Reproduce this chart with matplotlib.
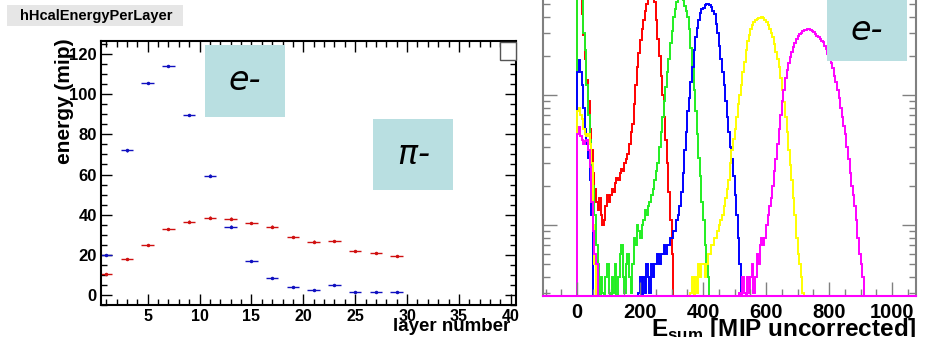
import numpy as np
import matplotlib
matplotlib.use("Agg")
import matplotlib.pyplot as plt
from matplotlib.patches import Rectangle
from matplotlib.ticker import MultipleLocator, LogLocator, NullFormatter

plt.rcParams["font.family"] = ["Liberation Sans", "DejaVu Sans"]
plt.rcParams["mathtext.fontset"] = "custom"
plt.rcParams["mathtext.bf"] = "Liberation Sans:bold"
plt.rcParams["mathtext.rm"] = "Liberation Sans"
plt.rcParams["mathtext.it"] = "DejaVu Sans:italic"

# ---- left panel: energy per layer ----
layers = [1, 3, 5, 7, 9, 11, 13, 15, 17, 19, 21, 23, 25, 27, 29]
e_energy = [20, 72, 105.5, 114, 89.5, 59.5, 34, 17, 8.5, 4, 2.5, 5, 1.5, 1.5, 1.5]
pi_energy = [10.5, 18, 25, 33, 36.5, 38.5, 38, 35.7, 34, 29, 26.6, 27, 22, 21, 19.5]

# ---- right panel: E_sum histograms (5 MIP bins), segments of (first bin edge, counts) ----
bin_width = 5
red_segments = [
    (0, [650, 750, 600, 420, 290, 190, 130, 90, 55, 38,
         25, 19, 15, 13, 16, 12, 10, 11, 14, 17,
         15, 17, 19, 18, 21, 23, 22, 25, 27, 26,
         30, 32, 35, 42, 52, 60, 85, 120, 165, 210,
         265, 320, 380, 440, 500, 560, 600, 620, 600, 520,
         380, 270, 200, 140, 100, 68, 45, 30, 18, 11, 6]),
]
green_segments = [
    (0, [650, 750, 700, 600, 300, 220, 120, 70, 45, 28,
         20, 12, 7, 5, 0, 4, 3, 0, 4, 5,
         3, 0, 4, 3, 5, 0, 4, 6, 7, 4,
         3, 5, 6, 4, 3, 5, 8, 7, 10, 9,
         8, 10, 11, 13, 12, 14, 15, 17, 19, 22,
         26, 30, 40, 52, 68, 90, 115, 150, 190, 250,
         310, 400, 460, 520, 560, 580, 570, 540, 480, 440,
         400, 320, 230, 165, 110, 75, 50, 33, 24, 15,
         11, 7, 5, 4]),
]
blue_segments = [
    (0, [150, 185, 150, 120, 80, 55, 42, 33, 22, 12]),
    (195, [3, 4, 0, 4, 3, 5, 4, 3, 5, 4,
           5, 5, 6, 5, 6, 6, 7, 6, 7, 7,
           8, 8, 9, 9, 11, 12, 14, 18, 25, 38,
           52, 75, 95, 125, 165, 220, 280, 330, 380, 430,
           455, 470, 490, 500, 505, 495, 475, 440, 420, 350,
           300, 240, 190, 150, 120, 90, 68, 52, 40, 32,
           24, 17, 12, 8, 5]),
]
yellow_segments = [
    (0, [75, 80, 70, 65, 55, 50, 48, 50, 42, 30, 10, 5]),
    (360, [3, 4, 0, 4, 3, 5, 4, 5, 5, 4,
           5, 6, 6, 7, 7, 8, 8, 9, 10, 11,
           12, 14, 16, 19, 22, 30, 38, 46, 55, 68,
           85, 100, 120, 150, 180, 220, 260, 290, 320, 345,
           365, 375, 385, 390, 392, 395, 390, 380, 365, 345,
           320, 300, 280, 245, 215, 190, 165, 135, 110, 88,
           68, 52, 38, 29, 22, 16, 12, 8, 6, 5,
           4, 3]),
]
magenta_segments = [
    (0, [50, 57, 48, 45, 42, 44, 45, 38, 28, 15, 9, 6, 5]),
    (515, [3, 0, 4, 3, 0, 4, 3, 4, 5, 3,
           4, 6, 5, 7, 8, 7, 8, 10, 12, 14,
           16, 20, 26, 32, 42, 55, 70, 90, 110, 135,
           155, 175, 195, 215, 235, 250, 270, 285, 295, 300,
           308, 315, 318, 320, 320, 318, 312, 305, 295, 285,
           278, 270, 262, 255, 240, 225, 205, 190, 175, 160,
           140, 125, 110, 95, 80, 68, 58, 50, 40, 32,
           25, 20, 17, 14, 11, 8, 6, 5, 4]),
]
hist_series = [
    ("#ff0000", red_segments),
    ("#22ee22", green_segments),
    ("#0000ff", blue_segments),
    ("#ffff00", yellow_segments),
    ("#ff00ff", magenta_segments),
]

W, H = 931, 337
fig = plt.figure(figsize=(W / 100, H / 100), dpi=100)


def fx(px):
    return px / W


def fy(py):
    return 1 - py / H


# left axes
ax1 = fig.add_axes([fx(101), fy(305), (516 - 101) / W, (305 - 41) / H])
ax1.errorbar(layers, e_energy, xerr=0.6, yerr=0.6, fmt=".", color="#1010c0",
             ms=3, lw=1, capsize=0)
ax1.errorbar(layers, pi_energy, xerr=0.6, yerr=0.6, fmt=".", color="#d01010",
             ms=3, lw=1, capsize=0)
ax1.set_xlim(0.5, 40.5)
ax1.set_ylim(-5, 126.5)
ax1.xaxis.set_major_locator(MultipleLocator(5))
ax1.xaxis.set_minor_locator(MultipleLocator(1))
ax1.yaxis.set_major_locator(MultipleLocator(20))
ax1.yaxis.set_minor_locator(MultipleLocator(5))
ax1.tick_params(which="both", direction="in", top=True, right=True, width=1,
                labelsize=12, pad=3)
ax1.tick_params(axis="x", pad=3, labelsize=11.5)
ax1.tick_params(which="major", length=8)
ax1.tick_params(which="minor", length=4)
ax1.set_xticks([5, 10, 15, 20, 25, 30, 35, 40])
for lab in ax1.get_xticklabels() + ax1.get_yticklabels():
    lab.set_fontweight("bold")
for sp in ax1.spines.values():
    sp.set_linewidth(1.5)

# right axes (top runs past the figure edge, like the cropped original)
ax2 = fig.add_axes([fx(543), fy(296), (916 - 543) / W, (296 + 17) / H])
ax2.set_yscale("log")
for color, segments in hist_series:
    for start, counts in segments:
        counts = np.maximum(np.array(counts, dtype=float), 1.0)
        edges = start + bin_width * np.arange(len(counts) + 1)
        ax2.stairs(counts, edges, baseline=1.0, color=color, lw=1.4)
ax2.set_xlim(-108, 1076)
ax2.set_ylim(2.84, 727)
ax2.xaxis.set_major_locator(MultipleLocator(200))
ax2.xaxis.set_minor_locator(MultipleLocator(50))
ax2.yaxis.set_major_locator(LogLocator(base=10))
ax2.yaxis.set_minor_locator(LogLocator(base=10, subs=np.arange(2, 10)))
ax2.yaxis.set_major_formatter(NullFormatter())
ax2.yaxis.set_minor_formatter(NullFormatter())
ax2.tick_params(which="both", direction="in", right=True, color="#808080",
                width=1, labelsize=14.5, pad=5)
ax2.tick_params(which="major", length=10)
ax2.tick_params(which="minor", length=5)
ax2.tick_params(axis="y", labelleft=False)
for lab in ax2.get_xticklabels():
    lab.set_fontweight("bold")
for side in ["left", "right"]:
    ax2.spines[side].set_color("#808080")
    ax2.spines[side].set_linewidth(1.5)
ax2.spines["bottom"].set_color("#ff00ff")
ax2.spines["bottom"].set_linewidth(1.5)
ax2.spines["top"].set_visible(False)

# titles and axis labels (ROOT style placement)
fig.add_artist(Rectangle((fx(7), fy(26)), 176 / W, 21 / H, transform=fig.transFigure,
                         fc="#e6e6e6", ec="none", zorder=4))
fig.text(fx(20), fy(16), "hHcalEnergyPerLayer", fontsize=10.5, fontweight="bold",
         ha="left", va="center", zorder=6)
fig.text(fx(64), fy(38), "energy (mip)", fontsize=15, fontweight="bold",
         rotation=90, ha="center", va="top")
fig.text(fx(510), fy(335), "layer number", fontsize=13.5, fontweight="bold",
         ha="right", va="bottom")
fig.text(fx(917), fy(336), r"$\mathbf{E}_{\mathbf{sum}}$ [MIP uncorrected]",
         fontsize=17.5, fontweight="bold", ha="right", va="baseline")

# stats box remnant in the left panel corner
fig.add_artist(Rectangle((fx(500), fy(60)), 16 / W, 18 / H, transform=fig.transFigure,
                         fc="white", ec="#555555", lw=1, zorder=5))

# particle tags
box_color = "#b9dfe1"
tags = [("e-", 205, 45, 285, 117), (r"$\pi$-", 373, 119, 453, 190),
        ("e-", 827, -5, 907, 61)]
for label, x0, y0, x1, y1 in tags:
    fig.add_artist(Rectangle((fx(x0), fy(y1)), (x1 - x0) / W, (y1 - y0) / H,
                             transform=fig.transFigure, fc=box_color, ec="none",
                             zorder=5))
    fig.text(fx((x0 + x1) / 2), fy((max(y0, 0) + y1) / 2), label, fontsize=24,
             family="DejaVu Sans", style="italic", ha="center", va="center",
             zorder=6)

fig.savefig("out.png", dpi=100)
